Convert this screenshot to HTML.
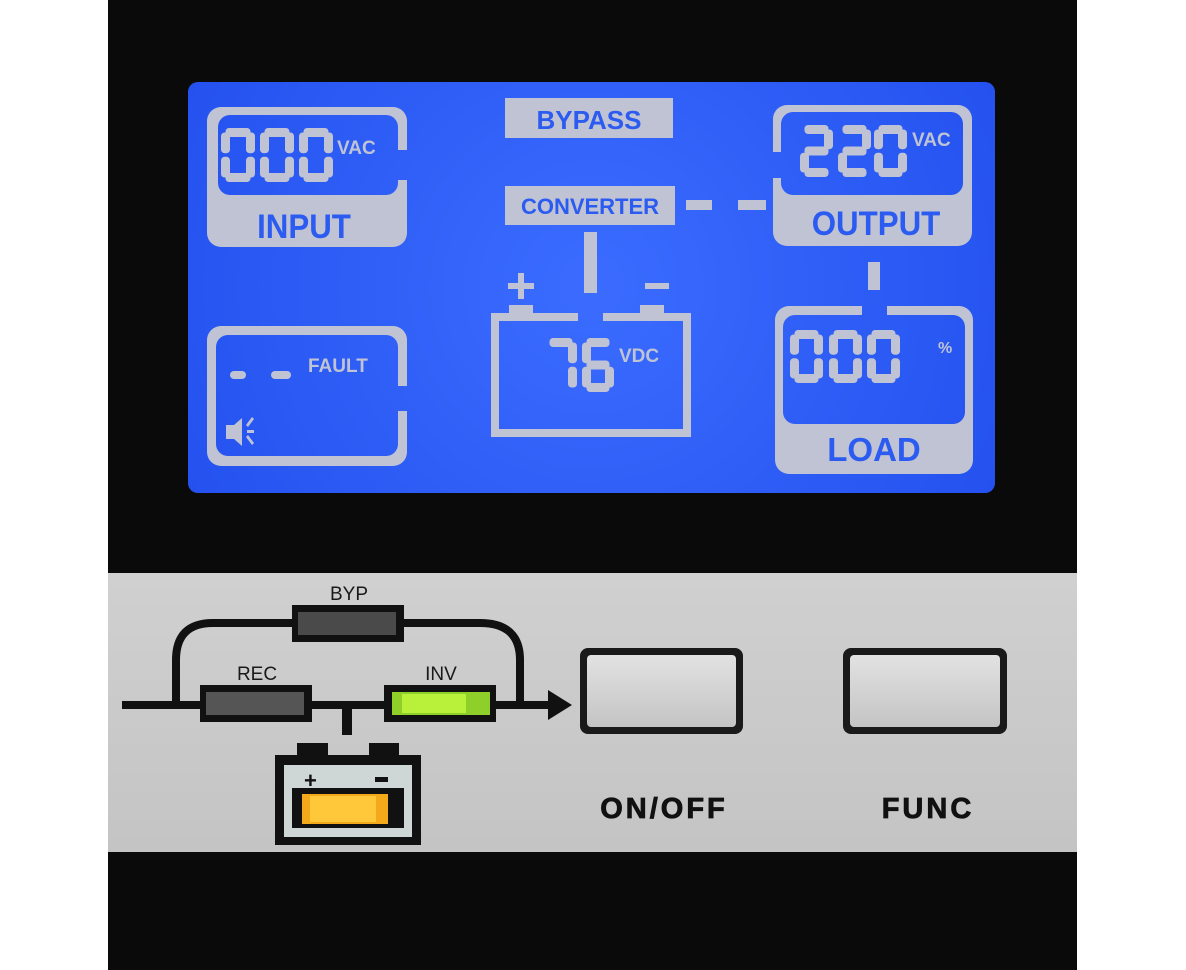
<!DOCTYPE html>
<html><head><meta charset="utf-8"><style>
html,body{margin:0;padding:0;background:#fff;width:1186px;height:970px;overflow:hidden}
svg{display:block}
text{font-family:"Liberation Sans",Arial,sans-serif;font-weight:bold}
</style></head><body>
<svg id="s" width="1186" height="970" viewBox="0 0 1186 970" xmlns="http://www.w3.org/2000/svg">
<defs>
<radialGradient id="lcd" gradientUnits="userSpaceOnUse" cx="591" cy="287" r="480">
<stop offset="0" stop-color="#3b6cff"/><stop offset="1" stop-color="#2350ee"/>
</radialGradient>
<linearGradient id="btn" x1="0" y1="0" x2="0" y2="1">
<stop offset="0" stop-color="#e2e2e2"/><stop offset="1" stop-color="#c4c4c4"/>
</linearGradient>
<linearGradient id="sil" x1="0" y1="0" x2="0" y2="1">
<stop offset="0" stop-color="#d0d0d0"/><stop offset="1" stop-color="#c4c4c4"/>
</linearGradient>
</defs>
<rect x="108" y="0" width="969" height="970" fill="#0a0a0a"/>
<rect x="188" y="82" width="807" height="411" rx="10" fill="url(#lcd)"/>
<g fill="#bfc3d3">
<rect x="207" y="107" width="200" height="140" rx="14"/>
<rect x="773" y="105" width="199" height="141" rx="14"/>
<rect x="775" y="306" width="198" height="168" rx="14"/>
<rect x="207" y="326" width="200" height="140" rx="14"/>
<rect x="505" y="98" width="168" height="40"/>
<rect x="505" y="186" width="170" height="39"/>
<rect x="686" y="200" width="26" height="10"/>
<rect x="738" y="200" width="28" height="10"/>
<rect x="584" y="232" width="13" height="61"/>
<rect x="868" y="262" width="12" height="28"/>
<rect x="491" y="313" width="200" height="124"/>
<rect x="509" y="305" width="24" height="10"/>
<rect x="640" y="305" width="24" height="10"/>
<rect x="508" y="283" width="26" height="6"/><rect x="518" y="273" width="6" height="26"/>
<rect x="645" y="283" width="24" height="6"/>
</g>
<g fill="url(#lcd)">
<rect x="218" y="115" width="180" height="80" rx="12"/>
<rect x="781" y="112" width="182" height="83" rx="12"/>
<rect x="783" y="315" width="182" height="109" rx="12"/>
<rect x="216" y="335" width="182" height="121" rx="12"/>
<rect x="396" y="150" width="14" height="30"/>
<rect x="770" y="152" width="14" height="26"/>
<rect x="862" y="300" width="25" height="18"/>
<rect x="396" y="386" width="14" height="25"/>
<rect x="499" y="321" width="184" height="108"/>
<rect x="578" y="308" width="25" height="14"/>
</g>
<g fill="#2b5bf0" text-anchor="middle">
<text x="304" y="238" font-size="34" transform="translate(304 0) scale(0.92 1) translate(-304 0)">INPUT</text>
<text x="876" y="235" font-size="34" transform="translate(876 0) scale(0.92 1) translate(-876 0)">OUTPUT</text>
<text x="874" y="461" font-size="33">LOAD</text>
<text x="589" y="129" font-size="26">BYPASS</text>
<text x="590" y="214" font-size="22">CONVERTER</text>
</g>
<g fill="#bfc3d3">
<text x="337" y="154" font-size="19">VAC</text>
<text x="912" y="146" font-size="19">VAC</text>
<text x="619" y="362" font-size="19">VDC</text>
<text x="308" y="372" font-size="19">FAULT</text>
<text x="938" y="353" font-size="16">%</text>
<rect x="230" y="371" width="16" height="8" rx="4"/>
<rect x="271" y="371" width="20" height="8" rx="4"/>
<rect x="226" y="425" width="8" height="14"/>
<polygon points="234,425 242,418 242,446 234,439"/>
<rect x="247" y="430" width="7" height="3"/>
<polygon points="246,425 252,417 254,419 248,427"/>
<polygon points="246,437 248,435 254,443 252,445"/>
</g>
<g id="digits" fill="#bfc3d3"></g>

<rect x="108" y="573" width="969" height="279" fill="url(#sil)"/>
<g fill="#111" stroke="none">
<rect x="122" y="701" width="430" height="8"/>
<polygon points="548,690 572,705 548,720"/>
<path d="M176 705 V660 Q176 623 213 623 H480 Q520 623 520 660 V705" fill="none" stroke="#111" stroke-width="8"/>
<rect x="292" y="605" width="112" height="37"/>
<rect x="200" y="685" width="112" height="37"/>
<rect x="384" y="685" width="112" height="37"/>
<rect x="342" y="705" width="10" height="30"/>
<rect x="297" y="743" width="31" height="14"/>
<rect x="369" y="743" width="30" height="14"/>
<rect x="275" y="755" width="146" height="90"/>
</g>
<rect x="284" y="765" width="128" height="72" fill="#cfd6d6"/>
<rect x="292" y="788" width="112" height="40" fill="#111"/>
<rect x="302" y="794" width="86" height="30" fill="#f3a91a"/>
<rect x="310" y="796" width="66" height="26" fill="#ffc83a"/>
<text x="304" y="788" font-size="22" fill="#111">+</text>
<rect x="375" y="777" width="13" height="5" fill="#111"/>
<rect x="298" y="612" width="98" height="23" fill="#4a4a4a"/>
<rect x="206" y="692" width="98" height="23" fill="#555"/>
<rect x="392" y="692" width="98" height="23" fill="#8ecf2a"/>
<rect x="402" y="694" width="64" height="19" fill="#b8f03a"/>
<g fill="#1a1a1a" text-anchor="middle" font-size="19">
<text x="349" y="600" style="font-weight:normal">BYP</text>
<text x="257" y="680" style="font-weight:normal">REC</text>
<text x="441" y="680" style="font-weight:normal">INV</text>
</g>
<rect x="580" y="648" width="163" height="86" rx="8" fill="#1a1a1a"/>
<rect x="587" y="655" width="149" height="72" rx="4" fill="url(#btn)"/>
<rect x="843" y="648" width="164" height="86" rx="8" fill="#1a1a1a"/>
<rect x="850" y="655" width="150" height="72" rx="4" fill="url(#btn)"/>
<g fill="#111" text-anchor="middle" font-size="29" letter-spacing="3" stroke="#111" stroke-width="0.8">
<text x="664" y="818">ON/OFF</text>
<text x="928" y="818">FUNC</text>
</g>
</svg>
<script>
var segs={0:"abcdef",2:"abged",6:"afgedc",7:"abc"};
var g=document.getElementById('digits');
function dig(x,y,w,h,t,n){
 var s=segs[n],h2=h/2;
 var S={a:[x+t*0.5,y,w-t,t],d:[x+t*0.5,y+h-t,w-t,t],g:[x+t*0.5,y+h2-t/2,w-t,t],
 f:[x,y+t*0.5,t,h2-t*0.7],b:[x+w-t,y+t*0.5,t,h2-t*0.7],e:[x,y+h2+t*0.2,t,h2-t*0.7],c:[x+w-t,y+h2+t*0.2,t,h2-t*0.7]};
 for(var i=0;i<s.length;i++){var q=S[s[i]];
  var e=document.createElementNS('http://www.w3.org/2000/svg','rect');
  e.setAttribute('x',q[0]);e.setAttribute('y',q[1]);e.setAttribute('width',q[2]);e.setAttribute('height',q[3]);e.setAttribute('rx',t/2.5);
  g.appendChild(e);}
}
[221,260,299].forEach(function(p){dig(p,128,34,54,9,0)});
dig(800,125,33,52,9,2);dig(838,125,33,52,9,2);dig(874,125,33,52,9,0);
dig(545,338,32,54,9,7);dig(582,338,32,54,9,6);
[790,829,867].forEach(function(p){dig(p,330,33,53,9,0)});
</script>
</body></html>
